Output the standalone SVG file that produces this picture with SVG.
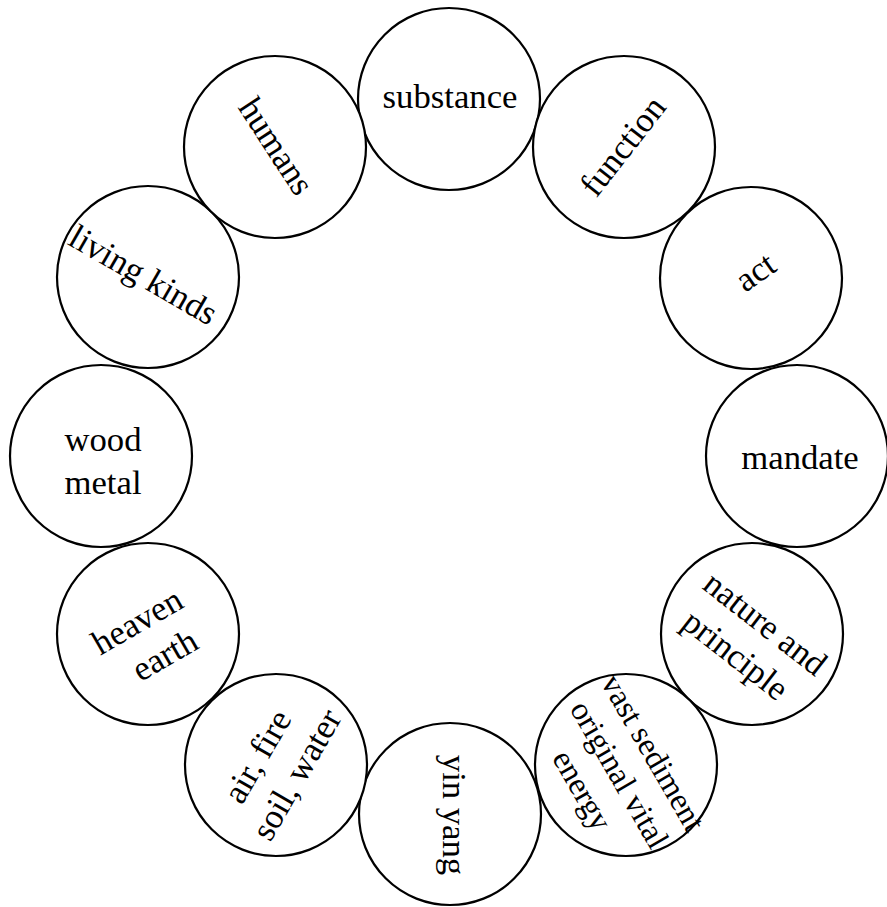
<svg xmlns="http://www.w3.org/2000/svg" width="887" height="907" viewBox="0 0 887 907">
<style>
.ring{fill:#fff;stroke:#000;stroke-width:2.2}
.lbl{font-family:"Liberation Serif","Times New Roman",serif;font-size:34.7px;fill:#000;text-anchor:middle}
.sm{font-size:32px}
</style>
<rect width="887" height="907" fill="#fff"/>
<g id="connectors"/>
<g id="n-substance">
<circle class="ring" cx="449" cy="99" r="91"/>
<text class="lbl" transform="translate(449,99)" x="1" y="9">substance</text>
</g>
<g id="n-function">
<circle class="ring" cx="624" cy="147" r="91"/>
<text class="lbl" transform="translate(624,147) rotate(-52)" x="0" y="10">function</text>
</g>
<g id="n-act">
<circle class="ring" cx="751" cy="278" r="91"/>
<text class="lbl" transform="translate(751,278) rotate(-35)" x="7" y="9">act</text>
</g>
<g id="n-mandate">
<circle class="ring" cx="797" cy="456" r="91"/>
<text class="lbl" transform="translate(797,456)" x="3" y="13">mandate</text>
</g>
<g id="n-nature">
<circle class="ring" cx="752" cy="634" r="91"/>
<text class="lbl" transform="translate(752,634) rotate(38)" y="-5"><tspan x="4">nature and</tspan><tspan x="0" dy="43">principle</tspan></text>
</g>
<g id="n-vast">
<circle class="ring" cx="626" cy="765" r="91"/>
<text class="lbl sm" transform="translate(626,765) rotate(60)" y="-19"><tspan x="3">vast sediment</tspan><tspan x="5" dy="40">original vital</tspan><tspan x="0" dy="40">energy</tspan></text>
</g>
<g id="n-yinyang">
<circle class="ring" cx="450" cy="814" r="91"/>
<text class="lbl" transform="translate(450,814) rotate(90)" x="1" y="7">yin yang</text>
</g>
<g id="n-air">
<circle class="ring" cx="276" cy="765" r="91"/>
<text class="lbl" transform="translate(276,765) rotate(-60)" y="-9"><tspan x="-2">air, fire</tspan><tspan x="2" dy="43">soil, water</tspan></text>
</g>
<g id="n-heaven">
<circle class="ring" cx="148" cy="634" r="91"/>
<text class="lbl" transform="translate(148,634) rotate(-30)" y="-5"><tspan x="-3">heaven</tspan><tspan x="4" dy="43">earth</tspan></text>
</g>
<g id="n-wood">
<circle class="ring" cx="101" cy="456" r="91"/>
<text class="lbl" transform="translate(101,456)" y="-5"><tspan x="2">wood</tspan><tspan x="2" dy="43">metal</tspan></text>
</g>
<g id="n-living">
<circle class="ring" cx="148" cy="277" r="91"/>
<text class="lbl" transform="translate(148,277) rotate(30)" x="-5" y="12">living kinds</text>
</g>
<g id="n-humans">
<circle class="ring" cx="275" cy="147" r="91"/>
<text class="lbl" transform="translate(275,147) rotate(57)" x="0" y="10">humans</text>
</g>
</svg>
